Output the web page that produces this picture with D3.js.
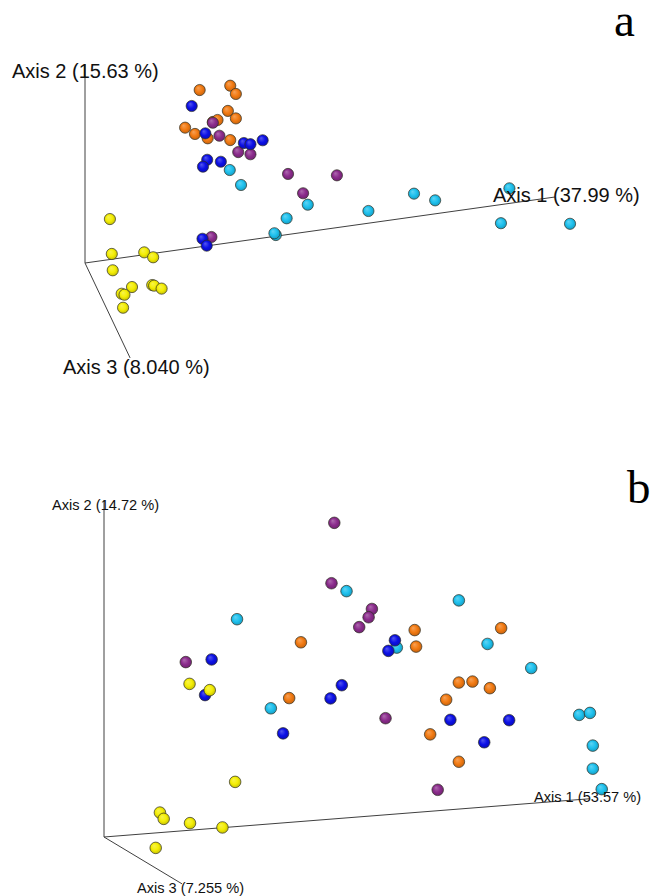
<!DOCTYPE html>
<html>
<head>
<meta charset="utf-8">
<script src="https://cdn.jsdelivr.net/npm/d3@7"></script>
<style>
  html, body { margin: 0; padding: 0; background: #fff; }
  svg { display: block; }
  text { font-family: "Liberation Sans", Arial, sans-serif; fill: #111; }
  .panel { font-family: "Liberation Serif", "Times New Roman", serif; fill: #000; }
</style>
</head>
<body>
<svg id="chart" width="652" height="896"></svg>
<script>
// ---- Data: projected PCoA coordinates (screen-projected units) ----
const groups = ["cyan", "orange", "purple", "blue", "yellow"];
const groupColors = ["#1ec1ee", "#f27a12", "#8b2c8c", "#0c10e6", "#f4ee05"];

// Panel a
const axisLabelsA = ["Axis 1 (37.99 %)", "Axis 2 (15.63 %)", "Axis 3 (8.040 %)"];
const aCyanU   = [30.8, 33.2, 47.4, 42.9, 40.6, 40.3, 60.3, 70.0, 74.5, 90.3, 88.5, 103.2];
const aCyanV   = [47.2, 39.6, 29.6, 22.7, 14.2, 15.1, 26.4, 35.2, 31.8, 37.9, 20.2, 19.9];
const aOrangeU = [24.4, 30.9, 32.1, 30.4, 32.1, 27.2, 28.2, 21.3, 23.4, 26.1, 30.9];
const aOrangeV = [87.8, 90.0, 85.8, 77.2, 73.4, 71.6, 72.6, 68.7, 65.5, 63.3, 62.4];
const aPurpleU = [27.2, 28.6, 32.6, 35.2, 43.2, 53.6, 46.4, 26.9];
const aPurpleV = [71.2, 64.6, 56.3, 55.2, 45.2, 44.5, 35.4, 13.2];
const aBlueU   = [22.7, 25.6, 33.8, 35.2, 37.8, 26.0, 25.1, 28.9, 25.0, 25.9];
const aBlueV   = [79.7, 65.8, 60.9, 60.3, 62.3, 52.4, 48.9, 51.4, 12.3, 8.8];
const aYellowU = [5.3, 5.7, 12.6, 14.5, 5.9, 10.0, 7.8, 8.4, 14.3, 14.7, 16.3, 8.1];
const aYellowV = [22.3, 4.6, 5.4, 2.9, -3.7, -12.2, -15.6, -16.1, -11.2, -11.5, -13.0, -22.7];
// axis end points (u, v) for Axis 1, Axis 2, Axis 3
const aAxisEndU = [100, 0, 9.6];
const aAxisEndV = [33.5, 101, -48.2];

// Panel b
const axisLabelsB = ["Axis 1 (53.57 %)", "Axis 2 (14.72 %)", "Axis 3 (7.255 %)"];
const bCyanU   = [51.6, 28.3, 35.5, 75.5, 62.3, 81.6, 90.9, 101.1, 103.4, 104.0, 104.0, 105.9];
const bCyanV   = [74.5, 66.0, 39.0, 71.7, 57.4, 58.5, 51.2, 37.0, 37.6, 27.7, 20.7, 14.5];
const bOrangeU = [41.9, 39.4, 66.1, 84.5, 66.4, 75.5, 78.4, 82.1, 72.8, 69.4, 75.5];
const bOrangeV = [59.0, 42.1, 62.7, 63.3, 57.7, 46.8, 47.1, 45.1, 41.6, 31.1, 22.8];
const bPurpleU = [49.0, 48.4, 17.4, 57.0, 56.3, 54.3, 59.9, 71.0];
const bPurpleV = [95.2, 76.9, 53.0, 69.1, 66.6, 63.6, 36.0, 14.3];
const bBlueU   = [22.9, 21.5, 50.6, 48.2, 38.1, 61.9, 60.5, 73.7, 86.2, 80.9];
const bBlueV   = [53.8, 43.0, 46.0, 42.0, 31.4, 59.6, 56.4, 35.5, 35.4, 28.7];
const bYellowU = [18.2, 22.5, 27.9, 11.9, 12.7, 18.3, 25.2, 11.0];
const bYellowV = [46.4, 44.5, 16.7, 7.4, 5.5, 4.2, 2.9, -3.3];
const bAxisEndU = [103.4, 0, 16.6];
const bAxisEndV = [11.6, 102.1, -14.2];

// ---- Drawing ----
const svg = d3.select("#chart");
const defs = svg.append("defs");

groupColors.forEach((c, i) => {
  const base = d3.rgb(c);
  const g = defs.append("radialGradient")
    .attr("id", "grad-" + groups[i])
    .attr("cx", "50%").attr("cy", "50%").attr("r", "55%")
    .attr("fx", "35%").attr("fy", "30%");
  g.append("stop").attr("offset", "0%").attr("stop-color", d3.interpolateRgb(base, "#ffffff")(0.3));
  g.append("stop").attr("offset", "55%").attr("stop-color", base.formatHex());
  g.append("stop").attr("offset", "100%").attr("stop-color", base.darker(0.7).formatHex());
});

function panel(cfg) {
  const x = d3.scaleLinear().domain([0, 100]).range(cfg.xRange);
  const y = d3.scaleLinear().domain([0, 100]).range(cfg.yRange);
  const g = svg.append("g");

  // axes
  const axes = cfg.endU.map((u, i) => ({ u, v: cfg.endV[i] }));
  g.selectAll("line.ax").data(axes).join("line")
    .attr("class", "ax")
    .attr("x1", x(0)).attr("y1", y(0))
    .attr("x2", d => x(d.u)).attr("y2", d => y(d.v))
    .attr("stroke", "#404040").attr("stroke-width", 1);

  // points
  cfg.series.forEach((s, i) => {
    const pts = s.u.map((u, k) => ({ u, v: s.v[k] }));
    g.append("g").selectAll("circle").data(pts).join("circle")
      .attr("cx", d => x(d.u)).attr("cy", d => y(d.v))
      .attr("r", cfg.r)
      .attr("fill", "url(#grad-" + s.name + ")")
      .attr("stroke", "#2e2e22").attr("stroke-opacity", 0.85)
      .attr("stroke-width", 0.8);
  });

  // axis labels
  cfg.labels.forEach((t, i) => {
    g.append("text")
      .attr("x", cfg.labelPos[i][0]).attr("y", cfg.labelPos[i][1])
      .attr("font-size", cfg.fs)
      .text(t);
  });

  // panel letter
  g.append("text").attr("class", "panel")
    .attr("x", cfg.letterPos[0]).attr("y", cfg.letterPos[1])
    .attr("font-size", 47)
    .text(cfg.letter);
}

panel({
  xRange: [85, 555], yRange: [263, 66],
  endU: aAxisEndU, endV: aAxisEndV, r: 5.6,
  series: [
    { name: "cyan", u: aCyanU, v: aCyanV },
    { name: "orange", u: aOrangeU, v: aOrangeV },
    { name: "purple", u: aPurpleU, v: aPurpleV },
    { name: "blue", u: aBlueU, v: aBlueV },
    { name: "yellow", u: aYellowU, v: aYellowV }
  ],
  labels: axisLabelsA,
  labelPos: [[493, 202], [12, 78], [63, 374]],
  fs: 20,
  letter: "a", letterPos: [614, 36]
});

panel({
  xRange: [104, 574], yRange: [837, 507],
  endU: bAxisEndU, endV: bAxisEndV, r: 5.8,
  series: [
    { name: "cyan", u: bCyanU, v: bCyanV },
    { name: "orange", u: bOrangeU, v: bOrangeV },
    { name: "purple", u: bPurpleU, v: bPurpleV },
    { name: "blue", u: bBlueU, v: bBlueV },
    { name: "yellow", u: bYellowU, v: bYellowV }
  ],
  labels: axisLabelsB,
  labelPos: [[534, 802], [52, 510], [137, 893]],
  fs: 14.6,
  letter: "b", letterPos: [627, 503]
});
</script>
</body>
</html>
